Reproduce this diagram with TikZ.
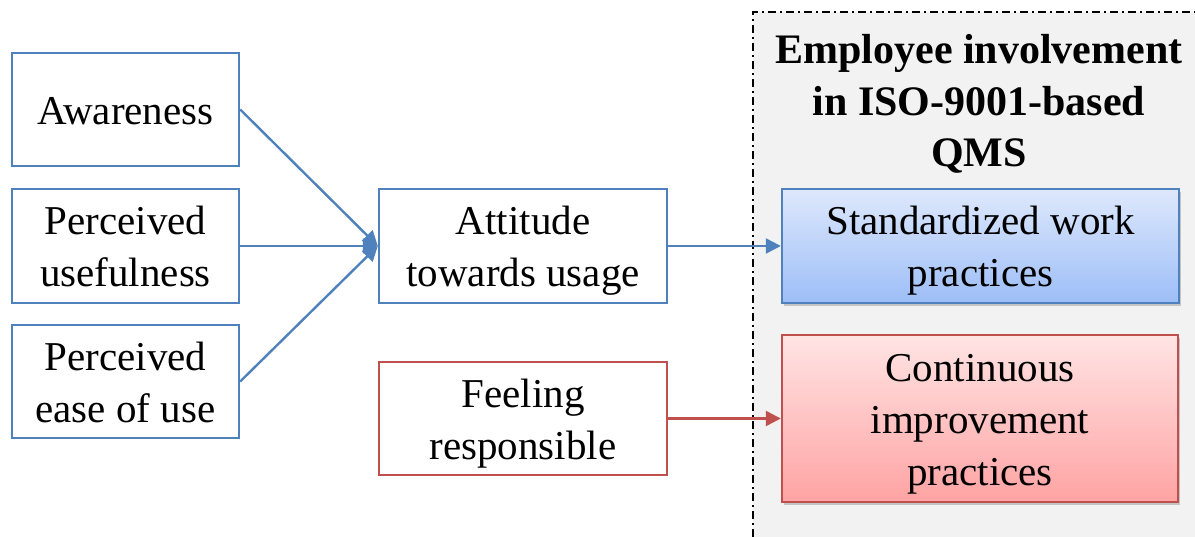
\documentclass[tikz,border=0pt]{standalone}
\usepackage{fontspec}
\setmainfont{Liberation Serif}
\usetikzlibrary{arrows.meta,shadows}
\definecolor{bblue}{HTML}{4F81BD}
\definecolor{rred}{HTML}{C0504D}
\definecolor{zone}{HTML}{F2F2F2}
\newcommand\tp{\rule{0pt}{40pt}}
\newcommand\bt{\rule[-10pt]{0pt}{0pt}}
\tikzset{
  box/.style={draw=bblue, line width=2.4pt, fill=white, align=center, inner sep=0pt,
    font=\fontsize{41}{52}\selectfont},
  redbox/.style={box, draw=rred},
  gradblue/.style={box, top color={rgb,255:red,222;green,232;blue,252}, bottom color={rgb,255:red,157;green,190;blue,247},
    drop shadow={shadow xshift=2pt,shadow yshift=-3pt,fill=black!35, opacity=.6}},
  gradred/.style={redbox, top color={rgb,255:red,255;green,228;blue,228}, bottom color={rgb,255:red,255;green,163;blue,163},
    drop shadow={shadow xshift=2pt,shadow yshift=-3pt,fill=black!35, opacity=.6}},
  conn/.style={line width=2.4pt, draw=bblue, -{Triangle[length=15pt,width=15pt]}},
  rconn/.style={conn, draw=rred},
}
\begin{document}
\begin{tikzpicture}[x=1pt,y=-1pt]
\useasboundingbox (0,0) rectangle (1195,537);
% zone
\fill[zone] (753,12) rectangle (1195,537);
\draw[line width=2.6pt, dash pattern=on 8pt off 4pt on 2pt off 4pt] (753,537) -- (753,12) -- (1195,12);
\node[font=\bfseries\fontsize{42}{51.5}\selectfont, align=center] (title) at (979,104) {Employee involvement\\in ISO-9001-based\\QMS};
% left boxes
\node[box, minimum width=227pt, minimum height=113pt] (aw) at (125.5,109.5) {\tp Awareness\bt};
\node[box, minimum width=227pt, minimum height=114pt] (pu) at (125.5,246) {\tp Perceived\\usefulness\bt};
\node[box, minimum width=227pt, minimum height=113pt] (pe) at (125.5,381.5) {\tp Perceived\\ease of use\bt};
\node[box, minimum width=288pt, minimum height=114pt] (at) at (523,246) {\tp Attitude\\towards usage\bt};
\node[redbox, minimum width=288pt, minimum height=113pt] (fr) at (523,418.5) {\tp Feeling\\responsible\bt};
\node[gradblue, minimum width=397pt, minimum height=114pt] (sw) at (980.5,246) {\tp Standardized work\\practices\bt};
\node[gradred, minimum width=396pt, minimum height=167pt] (ci) at (980,418.5) {\tp Continuous\\improvement\\practices\bt};
% connectors
\draw[conn] (aw.east) -- (at.west);
\draw[conn] (pu.east) -- (at.west);
\draw[conn] (pe.east) -- (at.west);
\draw[conn] (at.east) -- (sw.west);
\draw[rconn] (fr.east) -- (ci.west);
\end{tikzpicture}
\end{document}
